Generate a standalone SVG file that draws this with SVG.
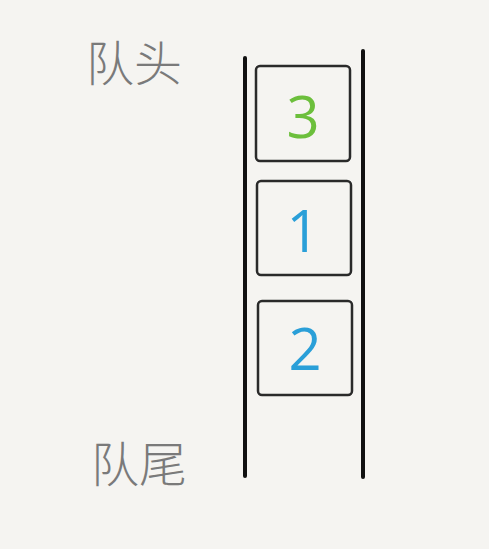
<svg xmlns="http://www.w3.org/2000/svg" width="489" height="549" viewBox="0 0 489 549">
<style>
.lbl{font-family:"Noto Sans CJK SC","Noto Sans",sans-serif;font-size:48px;font-weight:300;fill:#7a7a7a;}
.num{font-family:"Open Sans","Noto Sans",sans-serif;font-size:58px;font-weight:400;text-anchor:middle;}
.box{fill:none;stroke:#2a2a2a;stroke-width:2.5;}
.wall{stroke:#111;stroke-width:4;stroke-linecap:round;}
</style>
<rect width="489" height="549" fill="#f5f4f1"/>
<g id="label-head"><text class="lbl" x="86" y="81">队头</text></g>
<g id="label-tail"><text class="lbl" x="91" y="482">队尾</text></g>
<g id="walls">
<line class="wall" x1="245" y1="58" x2="245" y2="476"/>
<line class="wall" x1="363" y1="51" x2="363" y2="477"/>
</g>
<g id="node-3"><rect class="box" x="256" y="66" width="94" height="95" rx="4"/><text class="num" x="303" y="138" fill="#6cbf3c">3</text></g>
<g id="node-1"><rect class="box" x="257" y="181" width="94" height="94" rx="4"/><text class="num" x="303" y="252" fill="#2a9fd8">1</text></g>
<g id="node-2"><rect class="box" x="258" y="301" width="94" height="94" rx="4"/><text class="num" x="305" y="370" fill="#2a9fd8">2</text></g>
</svg>
